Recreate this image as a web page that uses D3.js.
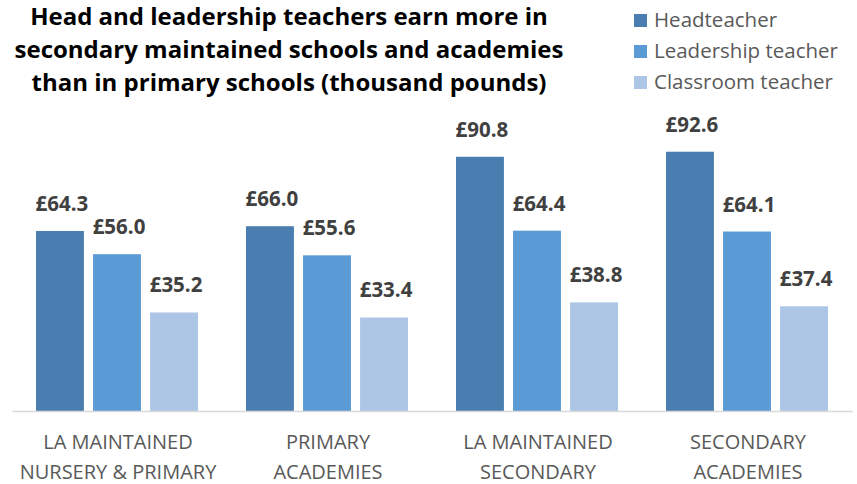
<!DOCTYPE html>
<html>
<head>
<meta charset="utf-8">
<script src="https://cdn.jsdelivr.net/npm/d3@7"></script>
<style>
  body { margin: 0; background: #fff; }
  svg { display: block; font-family: "Open Sans", "DejaVu Sans", sans-serif; }
</style>
</head>
<body>
<div id="chart"></div>
<script>
// Chart data
var categories = [
  ["LA MAINTAINED", "NURSERY & PRIMARY"],
  ["PRIMARY", "ACADEMIES"],
  ["LA MAINTAINED", "SECONDARY"],
  ["SECONDARY", "ACADEMIES"]
];
var seriesNames = ["Headteacher", "Leadership teacher", "Classroom teacher"];
var headteacher = [64.3, 66.0, 90.8, 92.6];
var leadership = [56.0, 55.6, 64.4, 64.1];
var classroom = [35.2, 33.4, 38.8, 37.4];
var colors = ["#4a7eb0", "#5b9bd5", "#adc6e5"];

var titleLines = [
  "Head and leadership teachers earn more in",
  "secondary maintained schools and academies",
  "than in primary schools (thousand pounds)"
];

var svgWidth = 857;
var svgHeight = 484;

var svg = d3.select("#chart")
  .append("svg")
  .attr("width", svgWidth)
  .attr("height", svgHeight);

// Scales
var x0 = d3.scaleBand()
  .domain(d3.range(categories.length))
  .range([12, 852])
  .paddingInner(0)
  .paddingOuter(0);

var x1 = d3.scaleBand()
  .domain(d3.range(seriesNames.length))
  .range([24, 186])
  .paddingInner(0.16);

var y = d3.scaleLinear()
  .domain([0, 100])
  .range([411, 131]);

var allSeries = [headteacher, leadership, classroom];

// Bars
var groups = svg.selectAll(".grp")
  .data(categories)
  .enter()
  .append("g")
  .attr("class", "grp")
  .attr("transform", (d, i) => `translate(${x0(i)},0)`);

groups.each(function(cat, ci) {
  var g = d3.select(this);
  allSeries.forEach(function(vals, si) {
    g.append("rect")
      .attr("x", x1(si))
      .attr("y", y(vals[ci]))
      .attr("width", x1.bandwidth())
      .attr("height", y(0) - y(vals[ci]))
      .attr("fill", colors[si]);

    g.append("text")
      .attr("x", x1(si) + x1.bandwidth() / 2 + 2)
      .attr("y", y(vals[ci]) - 20)
      .attr("text-anchor", "middle")
      .attr("font-size", 20.5)
      .attr("font-weight", "bold")
      .attr("fill", "#404040")
      .text("£" + vals[ci].toFixed(1));
  });
});

// Baseline axis
var xAxis = d3.axisBottom(x0).tickSize(0).tickFormat("");
svg.append("g")
  .attr("transform", `translate(0,${y(0)})`)
  .call(xAxis)
  .call(g => g.select(".domain").attr("stroke", "#d9d9d9").attr("stroke-width", 1.5));

// Category labels
categories.forEach(function(lines, i) {
  var t = svg.append("text")
    .attr("text-anchor", "middle")
    .attr("font-size", 20)
    .attr("fill", "#595959");
  lines.forEach(function(l, k) {
    t.append("tspan")
      .attr("x", x0(i) + x0.bandwidth() / 2 + 1)
      .attr("y", 449 + k * 30)
      .text(l);
  });
});

// Title
var title = svg.append("text")
  .attr("text-anchor", "middle")
  .attr("font-size", 24)
  .attr("font-weight", "bold")
  .attr("fill", "#000");
titleLines.forEach(function(l, k) {
  title.append("tspan")
    .attr("x", 289)
    .attr("y", 25 + k * 33)
    .text(l);
});

// Legend
var legend = svg.selectAll(".leg")
  .data(seriesNames)
  .enter()
  .append("g")
  .attr("class", "leg")
  .attr("transform", (d, i) => `translate(634,${20 + i * 31})`);

legend.append("rect")
  .attr("x", 0)
  .attr("y", -6)
  .attr("width", 13)
  .attr("height", 13)
  .attr("fill", (d, i) => colors[i]);

legend.append("text")
  .attr("x", 20)
  .attr("y", 7)
  .attr("font-size", 20.5)
  .attr("fill", "#595959")
  .text(d => d);
</script>
</body>
</html>
